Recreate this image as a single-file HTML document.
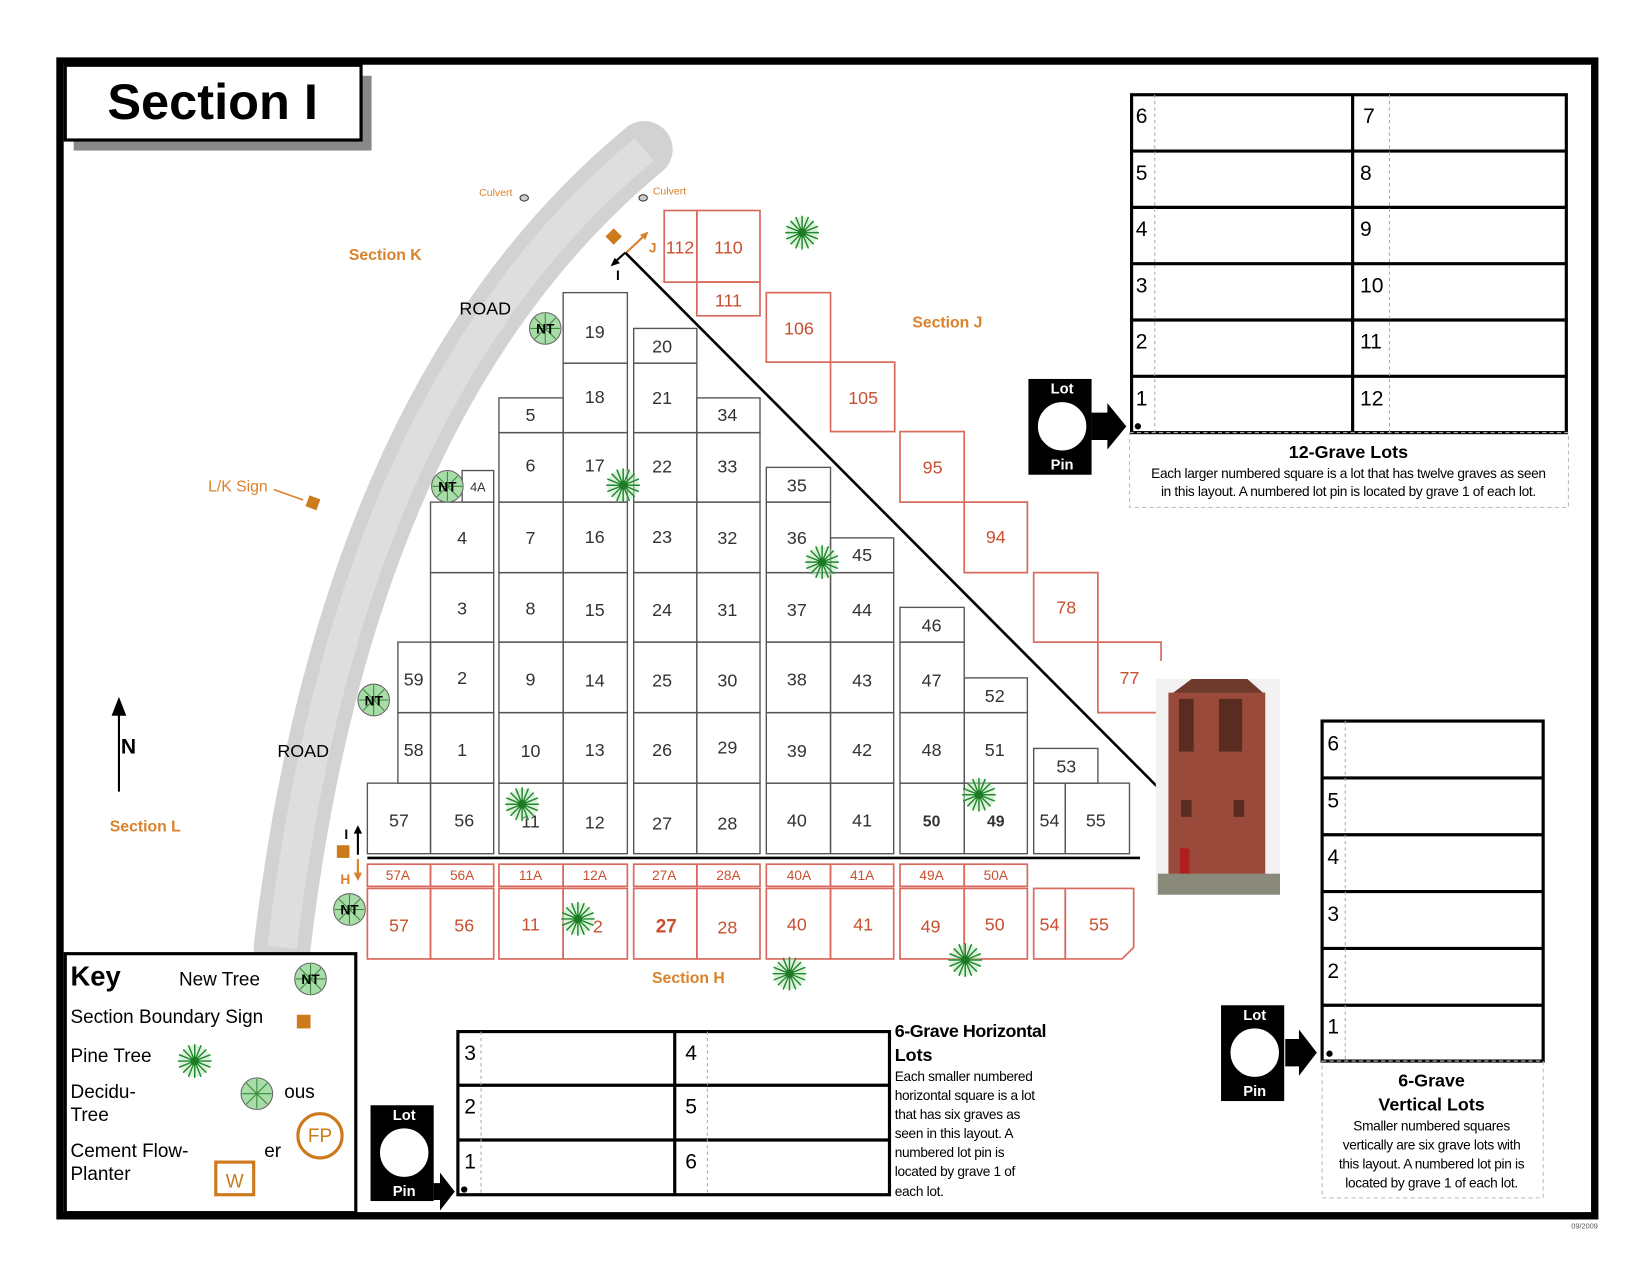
<!DOCTYPE html>
<html><head><meta charset="utf-8"><style>
html,body{margin:0;padding:0;background:#fff;}
svg{display:block;font-family:"Liberation Sans",Arial,sans-serif;}
.b{fill:none;stroke:#555;stroke-width:1.3}
.r{fill:none;stroke:#d9695c;stroke-width:1.6}
.t{font-size:17px;fill:#333;text-anchor:middle}
.rt{font-size:17px;fill:#c8502f;text-anchor:middle}
.rs{font-size:13px;fill:#c8502f;text-anchor:middle}
.or{fill:#d9822b;font-weight:bold;font-size:15px}
.g{stroke:#1f8a2a;stroke-width:1.4}
</style></head><body>
<svg width="1650" height="1275" viewBox="0 0 1567.5 1211.25" xmlns="http://www.w3.org/2000/svg">
<defs>
<g id="pine"><circle r="15" fill="#bfe3bf" opacity=".5"/><g class="g">
<line x1="-16" y1="0" x2="16" y2="0"/><line x1="0" y1="-16" x2="0" y2="16"/><line x1="-11" y1="-11" x2="11" y2="11"/><line x1="-11" y1="11" x2="11" y2="-11"/><line x1="-15" y1="-6" x2="15" y2="6"/><line x1="-15" y1="6" x2="15" y2="-6"/><line x1="-6" y1="-15" x2="6" y2="15"/><line x1="6" y1="-15" x2="-6" y2="15"/></g><circle r="4" fill="#1f7a25"/></g>
<g id="dec"><circle r="15" fill="#a8dca8" stroke="#666" stroke-width="1"/><g stroke="#3a8a3a" stroke-width="1"><line x1="-14" y1="0" x2="14" y2="0"/><line x1="0" y1="-14" x2="0" y2="14"/><line x1="-10" y1="-10" x2="10" y2="10"/><line x1="-10" y1="10" x2="10" y2="-10"/></g></g>
<g id="nt"><use href="#dec"/><text x="0" y="5" font-size="13" font-weight="bold" text-anchor="middle" fill="#000">NT</text></g>
<g id="pin"><rect x="0" y="0" width="60" height="91" fill="#000"/><circle cx="32" cy="45" r="24" fill="#fff" stroke="#000" stroke-width="2"/><text x="32" y="14" fill="#fff" font-size="14" font-weight="bold" text-anchor="middle">Lot</text><text x="32" y="86" fill="#fff" font-size="14" font-weight="bold" text-anchor="middle">Pin</text></g>
</defs>
<rect x="0" y="0" width="1567.5" height="1211.25" fill="#fff"/>
<rect x="57" y="58" width="1458" height="1097" fill="none" stroke="#000" stroke-width="7"/>
<!-- title -->
<rect x="70" y="72" width="283" height="71" fill="#888"/>
<rect x="62" y="62" width="281" height="71" fill="#fff" stroke="#000" stroke-width="3"/>
<text x="202" y="113" font-size="48" font-weight="bold" text-anchor="middle" font-family="Liberation Sans,sans-serif">Section I</text>
<!-- road -->
<path d="M 612 142 Q 330 375 268 900" fill="none" stroke="#d2d2d2" stroke-width="54" stroke-linecap="round"/>
<path d="M 612 142 Q 330 375 268 900" fill="none" stroke="#e6e6e6" stroke-width="28" opacity=".6"/>
<text x="461" y="299" font-size="17" text-anchor="middle">ROAD</text>
<text x="288" y="719" font-size="17" text-anchor="middle">ROAD</text>
<text x="471" y="186" font-size="10" fill="#d9822b" text-anchor="middle">Culvert</text>
<text x="636" y="185" font-size="10" fill="#d9822b" text-anchor="middle">Culvert</text>
<ellipse cx="498" cy="188" rx="4" ry="3" fill="#ccc" stroke="#333"/>
<ellipse cx="611" cy="188" rx="4" ry="3" fill="#ccc" stroke="#333"/>
<text x="366" y="247" class="or" text-anchor="middle">Section K</text>
<text x="900" y="311" class="or" text-anchor="middle">Section J</text>
<text x="138" y="790" class="or" text-anchor="middle">Section L</text>
<text x="654" y="934" class="or" text-anchor="middle">Section H</text>
<text x="226" y="467" font-size="15" fill="#d9822b" text-anchor="middle">L/K Sign</text>
<line x1="260" y1="465" x2="288" y2="475" stroke="#d9822b" stroke-width="1.5"/>
<rect x="292" y="472" width="11" height="11" fill="#cc7a1c" transform="rotate(20 297 477)"/>
<!-- N arrow -->
<line x1="113" y1="752" x2="113" y2="672" stroke="#000" stroke-width="2"/>
<polygon points="113,662 106,680 120,680" fill="#000"/>
<text x="122" y="716" font-size="20" font-weight="bold" text-anchor="middle">N</text>
<!-- J/I marker -->
<rect x="578" y="219" width="11" height="11" fill="#cc7a1c" transform="rotate(45 583 224)"/>
<line x1="595" y1="240" x2="614" y2="222" stroke="#d9822b" stroke-width="2"/>
<polygon points="616,220 608,223 613,228" fill="#d9822b"/>
<line x1="594" y1="240" x2="583" y2="250" stroke="#000" stroke-width="2"/>
<polygon points="580,253 589,250 584,245" fill="#000"/>
<text x="620" y="240" font-size="13" font-weight="bold" fill="#d9822b" text-anchor="middle">J</text>
<text x="587" y="266" font-size="13" font-weight="bold" text-anchor="middle">I</text>
<!-- I/H marker -->
<rect x="320" y="803" width="12" height="12" fill="#cc7a1c"/>
<line x1="340" y1="790" x2="340" y2="812" stroke="#000" stroke-width="2"/>
<polygon points="340,784 336,792 344,792" fill="#000"/>
<line x1="340" y1="816" x2="340" y2="832" stroke="#d9822b" stroke-width="2"/>
<polygon points="340,837 336,829 344,829" fill="#d9822b"/>
<text x="329" y="797" font-size="13" font-weight="bold" text-anchor="middle">I</text>
<text x="328" y="840" font-size="13" font-weight="bold" fill="#d9822b" text-anchor="middle">H</text>
<!-- black lots -->
<g class="b">
<rect x="349" y="744" width="60" height="67"/>
<rect x="378" y="610" width="31" height="67"/><rect x="378" y="677" width="31" height="67"/>
<rect x="409" y="477" width="60" height="67"/><rect x="409" y="544" width="60" height="66"/><rect x="409" y="610" width="60" height="67"/><rect x="409" y="677" width="60" height="67"/><rect x="409" y="744" width="60" height="67"/>
<rect x="439" y="447" width="30" height="30"/>
<rect x="474" y="378" width="61" height="33"/><rect x="474" y="411" width="61" height="66"/><rect x="474" y="477" width="61" height="67"/><rect x="474" y="544" width="61" height="66"/><rect x="474" y="610" width="61" height="67"/><rect x="474" y="677" width="61" height="67"/><rect x="474" y="744" width="61" height="67"/>
<rect x="535" y="278" width="61" height="67"/><rect x="535" y="345" width="61" height="66"/><rect x="535" y="411" width="61" height="66"/><rect x="535" y="477" width="61" height="67"/><rect x="535" y="544" width="61" height="66"/><rect x="535" y="610" width="61" height="67"/><rect x="535" y="677" width="61" height="67"/><rect x="535" y="744" width="61" height="67"/>
<rect x="602" y="312" width="60" height="33"/><rect x="602" y="345" width="60" height="66"/><rect x="602" y="411" width="60" height="66"/><rect x="602" y="477" width="60" height="67"/><rect x="602" y="544" width="60" height="66"/><rect x="602" y="610" width="60" height="67"/><rect x="602" y="677" width="60" height="67"/><rect x="602" y="744" width="60" height="67"/>
<rect x="662" y="378" width="60" height="33"/><rect x="662" y="411" width="60" height="66"/><rect x="662" y="477" width="60" height="67"/><rect x="662" y="544" width="60" height="66"/><rect x="662" y="610" width="60" height="67"/><rect x="662" y="677" width="60" height="67"/><rect x="662" y="744" width="60" height="67"/>
<rect x="728" y="444" width="61" height="33"/><rect x="728" y="477" width="61" height="67"/><rect x="728" y="544" width="61" height="66"/><rect x="728" y="610" width="61" height="67"/><rect x="728" y="677" width="61" height="67"/><rect x="728" y="744" width="61" height="67"/>
<rect x="789" y="511" width="60" height="33"/><rect x="789" y="544" width="60" height="66"/><rect x="789" y="610" width="60" height="67"/><rect x="789" y="677" width="60" height="67"/><rect x="789" y="744" width="60" height="67"/>
<rect x="855" y="577" width="61" height="33"/><rect x="855" y="610" width="61" height="67"/><rect x="855" y="677" width="61" height="67"/><rect x="855" y="744" width="61" height="67"/>
<rect x="916" y="644" width="60" height="33"/><rect x="916" y="677" width="60" height="67"/><rect x="916" y="744" width="60" height="67"/>
<rect x="982" y="711" width="61" height="33"/><rect x="982" y="744" width="30" height="67"/><rect x="1012" y="744" width="61" height="67"/>
</g>
<line x1="349" y1="815" x2="1083" y2="815" stroke="#000" stroke-width="2.5"/>
<line x1="594" y1="240" x2="1100" y2="748" stroke="#000" stroke-width="2.5"/>
<g class="t">
<text x="379" y="785">57</text><text x="393" y="651">59</text><text x="393" y="718">58</text>
<text x="439" y="517">4</text><text x="439" y="584">3</text><text x="439" y="650">2</text><text x="439" y="718">1</text><text x="441" y="785">56</text>
<text x="454" y="467" font-size="12">4A</text>
<text x="504" y="400">5</text><text x="504" y="448">6</text><text x="504" y="517">7</text><text x="504" y="584">8</text><text x="504" y="651">9</text><text x="504" y="719">10</text><text x="504" y="786">11</text>
<text x="565" y="321">19</text><text x="565" y="383">18</text><text x="565" y="448">17</text><text x="565" y="516">16</text><text x="565" y="585">15</text><text x="565" y="652">14</text><text x="565" y="718">13</text><text x="565" y="787">12</text>
<text x="629" y="335">20</text><text x="629" y="384">21</text><text x="629" y="449">22</text><text x="629" y="516">23</text><text x="629" y="585">24</text><text x="629" y="652">25</text><text x="629" y="718">26</text><text x="629" y="788">27</text>
<text x="691" y="400">34</text><text x="691" y="449">33</text><text x="691" y="517">32</text><text x="691" y="585">31</text><text x="691" y="652">30</text><text x="691" y="716">29</text><text x="691" y="788">28</text>
<text x="757" y="467">35</text><text x="757" y="517">36</text><text x="757" y="585">37</text><text x="757" y="651">38</text><text x="757" y="719">39</text><text x="757" y="785">40</text>
<text x="819" y="533">45</text><text x="819" y="585">44</text><text x="819" y="652">43</text><text x="819" y="718">42</text><text x="819" y="785">41</text>
<text x="885" y="600">46</text><text x="885" y="652">47</text><text x="885" y="718">48</text><text x="885" y="785" font-weight="bold" font-size="15">50</text>
<text x="945" y="667">52</text><text x="945" y="718">51</text><text x="946" y="785" font-weight="bold" font-size="15">49</text>
<text x="1013" y="734">53</text><text x="997" y="785">54</text><text x="1041" y="785">55</text>
</g>
<!-- red lots -->
<g class="r">
<rect x="349" y="821" width="60" height="21"/><rect x="409" y="821" width="60" height="21"/>
<rect x="474" y="821" width="61" height="21"/><rect x="535" y="821" width="61" height="21"/>
<rect x="602" y="821" width="60" height="21"/><rect x="662" y="821" width="60" height="21"/>
<rect x="728" y="821" width="61" height="21"/><rect x="789" y="821" width="60" height="21"/>
<rect x="855" y="821" width="61" height="21"/><rect x="916" y="821" width="60" height="21"/>
<rect x="349" y="844" width="60" height="67"/><rect x="409" y="844" width="60" height="67"/>
<rect x="474" y="844" width="61" height="67"/><rect x="535" y="844" width="61" height="67"/>
<rect x="602" y="844" width="60" height="67"/><rect x="662" y="844" width="60" height="67"/>
<rect x="728" y="844" width="61" height="67"/><rect x="789" y="844" width="60" height="67"/>
<rect x="855" y="844" width="61" height="67"/><rect x="916" y="844" width="60" height="67"/>
<rect x="982" y="844" width="30" height="67"/>
<path d="M1012 844 H1077 V900 L1066 911 H1012 Z"/>
<rect x="631" y="200" width="31" height="68"/><rect x="662" y="200" width="60" height="68"/><rect x="662" y="268" width="60" height="32"/>
<rect x="728" y="278" width="61" height="66"/><rect x="789" y="344" width="61" height="66"/>
<rect x="855" y="410" width="61" height="67"/><rect x="916" y="477" width="60" height="67"/>
<rect x="982" y="544" width="61" height="66"/><path d="M1043 610 H1103 V628 M1043 610 V677 H1100"/>
</g>
<g class="rs">
<text x="378" y="836">57A</text><text x="439" y="836">56A</text><text x="504" y="836">11A</text><text x="565" y="836">12A</text>
<text x="631" y="836">27A</text><text x="692" y="836">28A</text><text x="759" y="836">40A</text><text x="819" y="836">41A</text>
<text x="885" y="836">49A</text><text x="946" y="836">50A</text>
</g>
<g class="rt">
<text x="379" y="885">57</text><text x="441" y="885">56</text><text x="504" y="884">11</text><text x="568" y="886">2</text>
<text x="633" y="886" font-weight="bold" font-size="18">27</text><text x="691" y="887">28</text><text x="757" y="884">40</text><text x="820" y="884">41</text>
<text x="884" y="886">49</text><text x="945" y="884">50</text><text x="997" y="884">54</text><text x="1044" y="884">55</text>
<text x="646" y="241">112</text><text x="692" y="241">110</text><text x="692" y="291">111</text>
<text x="759" y="318">106</text><text x="820" y="384">105</text><text x="886" y="450">95</text><text x="946" y="516">94</text>
<text x="1013" y="583">78</text><text x="1073" y="650">77</text>
</g>
<!-- trees -->
<use href="#pine" x="762" y="221"/><use href="#pine" x="592" y="461"/><use href="#pine" x="781" y="534"/>
<use href="#pine" x="496" y="764"/><use href="#pine" x="930" y="755"/><use href="#pine" x="549" y="873"/>
<use href="#pine" x="750" y="925"/><use href="#pine" x="917" y="912"/>
<use href="#nt" x="518" y="312"/><use href="#nt" x="425" y="462"/><use href="#nt" x="355" y="665"/><use href="#nt" x="332" y="864"/>
<!-- tower -->
<rect x="1098" y="645" width="118" height="205" fill="#f2f2f2"/>
<polygon points="1112,660 1132,645 1185,645 1202,660" fill="#6e3a2c"/>
<rect x="1110" y="658" width="92" height="180" fill="#9a4a3a"/>
<rect x="1120" y="664" width="14" height="50" fill="#5a2b20"/><rect x="1158" y="664" width="22" height="50" fill="#5a2b20"/>
<rect x="1122" y="760" width="10" height="16" fill="#5a2b20"/><rect x="1172" y="760" width="10" height="16" fill="#5a2b20"/>
<rect x="1121" y="806" width="9" height="30" fill="#b01e1e"/>
<rect x="1100" y="830" width="116" height="20" fill="#8a8a7a"/>
<!-- 12-grave table -->
<g>
<rect x="1075" y="90" width="413" height="321" fill="none" stroke="#000" stroke-width="3"/>
<g stroke="#000" stroke-width="3"><line x1="1285" y1="90" x2="1285" y2="411"/>
<line x1="1075" y1="143.5" x2="1488" y2="143.5"/><line x1="1075" y1="197" x2="1488" y2="197"/><line x1="1075" y1="250.5" x2="1488" y2="250.5"/><line x1="1075" y1="304" x2="1488" y2="304"/><line x1="1075" y1="357.5" x2="1488" y2="357.5"/></g>
<g stroke="#aaa" stroke-dasharray="3,3"><line x1="1097" y1="90" x2="1097" y2="411"/><line x1="1320" y1="90" x2="1320" y2="411"/></g>
<g font-size="20"><text x="1079" y="117">6</text><text x="1079" y="171">5</text><text x="1079" y="224">4</text><text x="1079" y="278">3</text><text x="1079" y="331">2</text><text x="1079" y="385">1</text>
<text x="1295" y="117">7</text><text x="1292" y="171">8</text><text x="1292" y="224">9</text><text x="1292" y="278">10</text><text x="1292" y="331">11</text><text x="1292" y="385">12</text></g>
<circle cx="1081" cy="405" r="3"/>
<rect x="1073" y="411" width="417" height="71" fill="none" stroke="#bbb" stroke-dasharray="4,3"/>
<text x="1281" y="435" font-size="17" font-weight="bold" text-anchor="middle">12-Grave Lots</text>
<text x="1281" y="454" font-size="13" text-anchor="middle" letter-spacing="-0.3">Each larger numbered square is a lot that has twelve graves as seen</text>
<text x="1281" y="471" font-size="13" text-anchor="middle" letter-spacing="-0.3">in this layout.  A numbered lot pin is located by grave 1 of each lot.</text>
</g>
<use href="#pin" x="977" y="360"/>
<polygon points="1037,392 1052,392 1052,383 1070,405 1052,427 1052,418 1037,418" fill="#000"/>
<!-- 6 vertical -->
<rect x="1256" y="685" width="210" height="323" fill="none" stroke="#000" stroke-width="3"/>
<g stroke="#000" stroke-width="3"><line x1="1256" y1="739" x2="1466" y2="739"/><line x1="1256" y1="793" x2="1466" y2="793"/><line x1="1256" y1="847" x2="1466" y2="847"/><line x1="1256" y1="901" x2="1466" y2="901"/><line x1="1256" y1="955" x2="1466" y2="955"/></g>
<line x1="1278" y1="685" x2="1278" y2="1008" stroke="#aaa" stroke-dasharray="3,3"/>
<g font-size="20"><text x="1261" y="713">6</text><text x="1261" y="767">5</text><text x="1261" y="821">4</text><text x="1261" y="875">3</text><text x="1261" y="929">2</text><text x="1261" y="982">1</text></g>
<circle cx="1263" cy="1001" r="3"/>
<rect x="1256" y="1008" width="210" height="130" fill="none" stroke="#bbb" stroke-dasharray="4,3"/>
<text x="1360" y="1032" font-size="17" font-weight="bold" text-anchor="middle">6-Grave</text>
<text x="1360" y="1055" font-size="17" font-weight="bold" text-anchor="middle">Vertical Lots</text>
<g font-size="13" text-anchor="middle" letter-spacing="-0.3"><text x="1360" y="1074">Smaller numbered squares</text><text x="1360" y="1092">vertically are six grave lots with</text><text x="1360" y="1110">this layout.  A numbered lot pin is</text><text x="1360" y="1128">located by grave 1 of each lot.</text></g>
<use href="#pin" x="1160" y="955"/>
<polygon points="1221,987 1234,987 1234,978 1251,1000 1234,1022 1234,1013 1221,1013" fill="#000"/>
<!-- 6 horizontal -->
<rect x="435" y="980" width="410" height="155" fill="none" stroke="#000" stroke-width="3"/>
<g stroke="#000" stroke-width="3"><line x1="641" y1="980" x2="641" y2="1135"/><line x1="435" y1="1031" x2="845" y2="1031"/><line x1="435" y1="1083" x2="845" y2="1083"/></g>
<g stroke="#aaa" stroke-dasharray="3,3"><line x1="457" y1="980" x2="457" y2="1135"/><line x1="672" y1="980" x2="672" y2="1135"/></g>
<g font-size="20"><text x="441" y="1007">3</text><text x="441" y="1058">2</text><text x="441" y="1110">1</text><text x="651" y="1007">4</text><text x="651" y="1058">5</text><text x="651" y="1110">6</text></g>
<circle cx="441" cy="1130" r="3"/>
<text x="850" y="985" font-size="17" font-weight="bold" letter-spacing="-0.4">6-Grave Horizontal</text>
<text x="850" y="1008" font-size="17" font-weight="bold">Lots</text>
<g font-size="13" letter-spacing="-0.3"><text x="850" y="1027">Each smaller numbered</text><text x="850" y="1045">horizontal square is a lot</text><text x="850" y="1063">that has six graves as</text><text x="850" y="1081">seen in this layout.  A</text><text x="850" y="1099">numbered lot pin is</text><text x="850" y="1117">located by grave 1 of</text><text x="850" y="1136">each lot.</text></g>
<use href="#pin" x="352" y="1050"/>
<polygon points="412,1124 418,1124 418,1114 432,1132 418,1150 418,1140 412,1140" fill="#000"/>
<!-- key -->
<rect x="62" y="906" width="276" height="246" fill="#fff" stroke="#000" stroke-width="3"/>
<text x="67" y="936" font-size="26" font-weight="bold">Key</text>
<text x="170" y="936" font-size="18">New Tree</text>
<use href="#nt" x="295" y="930"/>
<text x="67" y="972" font-size="18">Section Boundary Sign</text>
<rect x="282" y="964" width="13" height="13" fill="#cc7a1c"/>
<text x="67" y="1009" font-size="18">Pine Tree</text>
<use href="#pine" x="185" y="1008"/>
<text x="67" y="1043" font-size="18">Decidu-</text><text x="67" y="1065" font-size="18">Tree</text>
<text x="270" y="1043" font-size="18">ous</text>
<use href="#dec" x="244" y="1039"/>
<text x="67" y="1099" font-size="18">Cement Flow-</text><text x="67" y="1121" font-size="18">Planter</text>
<text x="251" y="1099" font-size="18">er</text>
<circle cx="304" cy="1079" r="21" fill="none" stroke="#cc7a1c" stroke-width="3"/>
<text x="304" y="1085" font-size="18" fill="#cc7a1c" text-anchor="middle">FP</text>
<rect x="205" y="1104" width="36" height="31" fill="none" stroke="#cc7a1c" stroke-width="3"/>
<text x="223" y="1128" font-size="18" fill="#cc7a1c" text-anchor="middle">W</text>
<text x="1518" y="1167" font-size="7" fill="#555" text-anchor="end">09/2009</text>
</svg>
</body></html>
